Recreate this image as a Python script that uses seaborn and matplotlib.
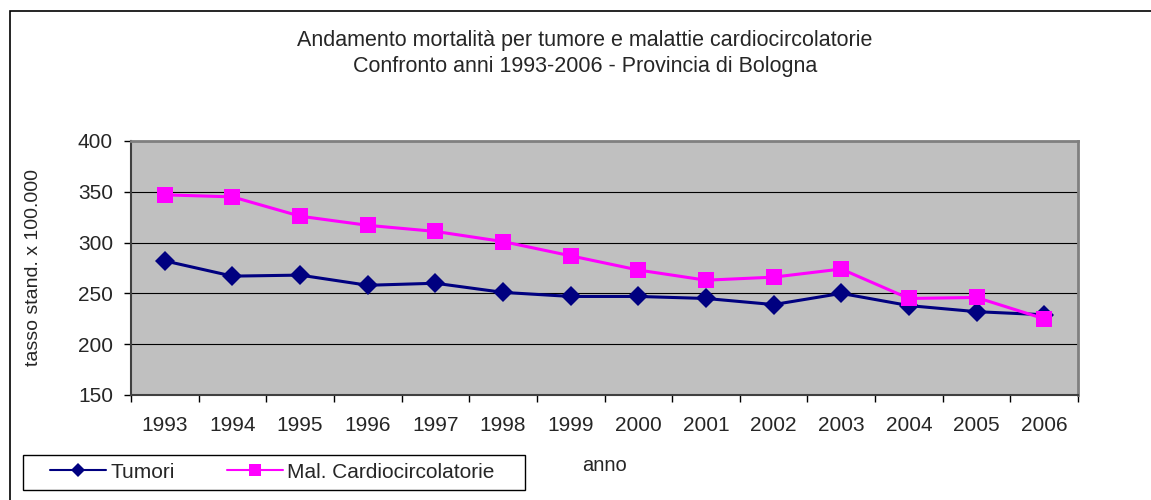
import pandas as pd
import matplotlib.pyplot as plt
import matplotlib.patches as mpatches
import seaborn as sns

anni = [1993, 1994, 1995, 1996, 1997, 1998, 1999, 2000, 2001, 2002, 2003, 2004, 2005, 2006]
tumori = [282, 267, 268, 258, 260, 251, 247, 247, 245, 239, 250, 238, 232, 229]
cardio = [347, 345, 326, 317, 311, 301, 287, 273, 263, 266, 274, 245, 246, 225]
serie = ['Tumori', 'Mal. Cardiocircolatorie']
colori = ['#000080', '#FF00FF']
marcatori = ['D', 's']

df = pd.DataFrame({
	'anno': anni * 2,
	'tasso': tumori + cardio,
	'serie': [serie[0]] * len(anni) + [serie[1]] * len(anni),
})

sns.set_style('white')
plt.rcParams['font.family'] = ['Liberation Sans', 'DejaVu Sans']

fig = plt.figure(figsize=(11.51, 5.0), dpi=100)
ax = fig.add_axes([0.1138, 0.21, 0.8228, 0.508])
ax.set_facecolor('#C0C0C0')

sns.lineplot(data=df, x='anno', y='tasso', hue='serie', style='serie',
	palette=colori, markers=marcatori, dashes=False, ax=ax,
	linewidth=2.2, markersize=10, markeredgewidth=0, legend=False)
# il quadrato un po' più grande
ax.lines[1].set_markersize(11)

ax.set_xlim(anni[0] - 0.5, anni[-1] + 0.5)
ax.set_ylim(150, 400)
ax.set_yticks(range(150, 401, 50))
ax.set_xticks(anni)
ax.set_xticks([a - 0.5 for a in anni] + [anni[-1] + 0.5], minor=True)
ax.tick_params(axis='x', which='major', length=0, pad=15, labelsize=15)
ax.tick_params(axis='x', which='minor', length=5, width=1, color='black', direction='out', bottom=True)
ax.tick_params(axis='y', length=5, width=1, color='black', direction='out', left=True, pad=8, labelsize=15)
ax.grid(axis='y', color='black', linewidth=0.8)
ax.set_axisbelow(True)

for lato in ['top', 'right']:
	ax.spines[lato].set_color('#808080')
	ax.spines[lato].set_linewidth(2)
for lato in ['left', 'bottom']:
	ax.spines[lato].set_color('#404040')
	ax.spines[lato].set_linewidth(1.5)

ax.set_ylabel('tasso stand. x 100.000', fontsize=14)
ax.yaxis.set_label_coords(-0.094, 0.5)
ax.set_xlabel('anno', fontsize=14.5)
ax.xaxis.set_label_coords(0.5, -0.276)
ax.xaxis.label.set_va('center')

fig.text(0.508, 0.893, 'Andamento mortalità per tumore e malattie cardiocircolatorie\nConfronto anni 1993-2006 - Provincia di Bologna',
	ha='center', va='center', fontsize=15.5, linespacing=1.3)

# legenda in basso a sinistra, cornice disegnata a parte
maniglie = [plt.Line2D([], [], color=c, marker=m, linewidth=1.5, markersize=ms, markeredgewidth=0)
	for c, m, ms in zip(colori, marcatori, [7.5, 8.5])]
fig.legend(maniglie, serie, loc='center left', bbox_to_anchor=(50 / 1151, 0.056),
	ncol=2, fontsize=15, frameon=False, borderaxespad=0, borderpad=0,
	handlelength=2.7, handletextpad=0.2, columnspacing=2.5)
fig.patches.append(mpatches.Rectangle((23 / 1151, 0.02), 502 / 1151, 0.071, transform=fig.transFigure,
	fill=False, edgecolor='black', linewidth=1))

fig.patches.append(mpatches.Rectangle((0.0083, -0.05), 1.1, 0.028 + 1.0, transform=fig.transFigure,
	fill=False, edgecolor='black', linewidth=1.2, clip_on=False))

fig.savefig('out.png', dpi=100)
